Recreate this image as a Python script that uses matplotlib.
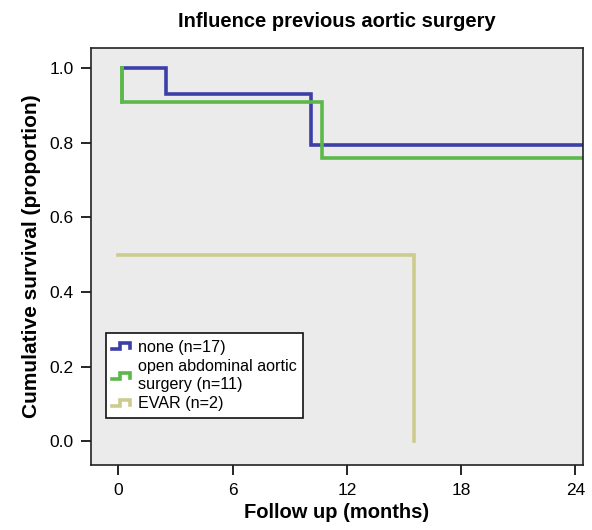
import matplotlib
matplotlib.use("Agg")
import matplotlib.pyplot as plt
from matplotlib.lines import Line2D
from matplotlib.legend_handler import HandlerBase

plt.rcParams["font.family"] = ["Liberation Sans", "DejaVu Sans"]

# Kaplan-Meier step curves: event times (months) and survival after each step
none_t = [0.2, 2.5, 10.1, 24.4]
none_s = [1.0, 0.93, 0.795, 0.795]
open_t = [0.2, 0.2, 10.7, 24.4]
open_s = [1.0, 0.91, 0.76, 0.76]
evar_t = [0.0, 15.55, 15.55]
evar_s = [0.5, 0.5, 0.0]

labels = ["none (n=17)", "open abdominal aortic\nsurgery (n=11)", "EVAR (n=2)"]
colors = ["#3b3fa6", "#5cb84a", "#cdcc8e"]
xticks = [0, 6, 12, 18, 24]
yticks = [0.0, 0.2, 0.4, 0.6, 0.8, 1.0]


class StepHandler(HandlerBase):
    """Small step-shaped glyph for the legend, like the survival curves."""
    def create_artists(self, legend, orig, xd, yd, w, h, fontsize, trans):
        xs = [xd, xd + 0.45 * w, xd + 0.45 * w, xd + w, xd + w]
        ys = [yd + 0.2 * h, yd + 0.2 * h, yd + 0.75 * h, yd + 0.75 * h, yd + 0.3 * h]
        ln = Line2D(xs, ys, color=orig.get_color(), lw=2.6, transform=trans,
                    solid_joinstyle="miter")
        return [ln]


fig = plt.figure(figsize=(5.92, 5.30), dpi=100)
ax = fig.add_axes([0.153, 0.122, 0.832, 0.788])
ax.set_facecolor("#ebebeb")

handles = []
for t, s, c in [(none_t, none_s, colors[0]), (open_t, open_s, colors[1]),
                (evar_t, evar_s, colors[2])]:
    h, = ax.step(t, s, where="post", color=c, lw=2.6, solid_joinstyle="miter")
    handles.append(h)
# curves start at time 0 from full survival
ax.plot([0.2, 0.2], [1.0, 0.91], color=colors[1], lw=2.6)

ax.set_xlim(-1.45, 24.4)
ax.set_ylim(-0.065, 1.055)
ax.set_xticks(xticks)
ax.set_xticklabels([str(v) for v in xticks])
ax.set_yticks(yticks)
ax.set_yticklabels([f"{v:.1f}" for v in yticks])
ax.tick_params(direction="out", length=7, width=1.2, labelsize=12.5, pad=5)
ax.tick_params(axis="x", pad=6)
for sp in ax.spines.values():
    sp.set_linewidth(1.2)
    sp.set_color("#222222")

ax.set_title("Influence previous aortic surgery", fontsize=14.5, fontweight="bold", pad=15)
ax.set_xlabel("Follow up (months)", fontsize=14.5, fontweight="bold", labelpad=3)
ax.set_ylabel("Cumulative survival (proportion)", fontsize=15, fontweight="bold", labelpad=6)

leg = ax.legend(handles, labels, loc="lower left", bbox_to_anchor=(0.015, 0.095),
                fontsize=11.6, handler_map={Line2D: StepHandler()},
                handlelength=1.1, handletextpad=0.5, labelspacing=0.28,
                borderpad=0.4, fancybox=False, framealpha=1, edgecolor="#111111")
leg.get_frame().set_linewidth(1.2)

fig.savefig("out.png", dpi=100)
